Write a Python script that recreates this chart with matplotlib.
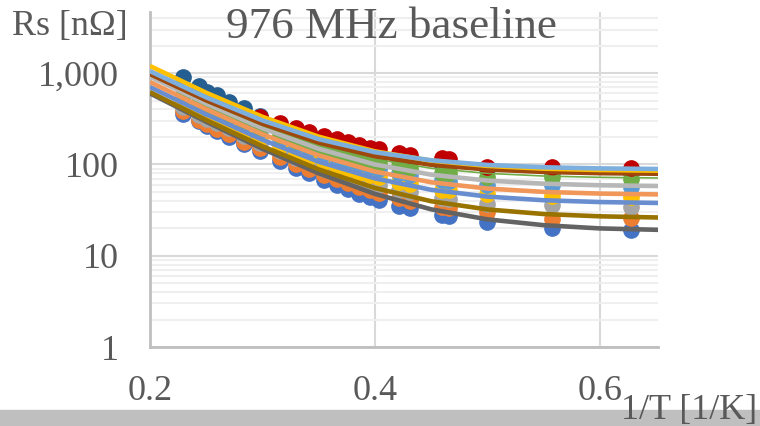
import numpy as np
import matplotlib.pyplot as plt
from matplotlib.patches import Rectangle
from matplotlib.ticker import FixedLocator, FixedFormatter, LogLocator, NullFormatter

plt.rcParams['font.family'] = ['Liberation Serif', 'DejaVu Serif']

# 1/T columns [1/K]
inv_t = [0.229, 0.244, 0.251, 0.260, 0.270, 0.284, 0.298, 0.316, 0.330, 0.341, 0.355, 0.366,
         0.376, 0.386, 0.396, 0.404, 0.421, 0.431, 0.460, 0.466, 0.500, 0.557, 0.628]

nan = np.nan
# measured Rs [nOhm]
rs_blue = [360, 300, 265, 235, 200, 168, 140, 110, 92, 80, 68, 60, 54, 48, 44, 41, 35, 33, 28, 27.5, 23.5, 20, 19]
rs_orange = [380, 305, 278, 245, 215, 178, 150, 120, 100, 89, 77, 69, 63, 57, 52, 49, 43, 40, 34, 33, 30, 25, 26]
rs_gray = [430, 350, 318, 282, 248, 205, 172, 140, 118, 105, 90, 82, 75, 69, 64, 60, 53, 50, 43, 42, 37, 35.5, 34]
rs_gold = [480, 390, 352, 312, 275, 230, 193, 158, 135, 120, 106, 96, 88, 81, 76, 72, 64, 61, 53, 52, 47, 45.5, 44]
rs_lightblue = [565, 462, 420, 374, 330, 277, 235, 192, 165, 148, 130, 118, 108, 100, 94, 89, 80, 76, 67, 66, 60, 59, 57]
rs_green = [595, 488, 446, 398, 352, 298, 253, 208, 181, 164, 145, 133, 124, 115, 108, 103, 95, 91, 81, 80, 72, 73, 69]
rs_navy = [900, 720, 625, 575, 485, 415, 335, 270, 232, 208, 184, 167, 154, 143, 134, 128, 116, 111, 99, 97, 88, 82, 80]
rs_red = [nan, nan, nan, nan, nan, nan, 330, 285, 250, 226, 205, 189, 176, 163, 152, 146, 135, 128, 118, 115, 94, 93, 91]

# trend lines
fit_x = [0.200, 0.250, 0.300, 0.350, 0.400, 0.450, 0.500, 0.550, 0.600, 0.652]
fit_lightblue = [1050, 542, 303, 189, 136, 111, 98.7, 93, 90.4, 89.1]
fit_gold = [1196, 609, 332, 201, 139, 110, 96.3, 89.8, 86.8, 85.3]
fit_brown = [978, 503, 279, 173, 123, 99, 88, 82.7, 80.2, 79]
fit_green = [950, 486, 266, 163, 114, 90.7, 79.8, 74.6, 72.2, 71]
fit_gray = [917, 463, 249, 148, 99.8, 77.2, 66.5, 61.5, 59.1, 58]
fit_orange = [800, 402, 214, 125.5, 83.5, 63.7, 54.4, 50, 47.9, 46.9]
fit_blue = [705, 353, 186, 107, 70.3, 52.7, 44.4, 40.5, 38.7, 37.8]
fit_darkgold = [620, 306, 158, 88.2, 55.1, 39.5, 32.1, 28.6, 27, 26.2]
fit_darkgray = [600, 293, 148, 79.8, 47.5, 32.2, 25, 21.6, 19.9, 19.2]

fig = plt.figure(figsize=(7.6, 4.26), dpi=100)
ax = fig.add_axes([150 / 760, 79 / 426, 508 / 760, 335 / 426])

markers = [
    (rs_navy, '#255E91'),
    (rs_blue, '#4472C4'),
    (rs_orange, '#ED7D31'),
    (rs_gray, '#A5A5A5'),
    (rs_gold, '#FFC000'),
    (rs_lightblue, '#5B9BD5'),
    (rs_green, '#70AD47'),
    (rs_red, '#C00000'),
]
for vals, c in markers:
    ax.plot(inv_t, vals, 'o', ms=11, color=c, mec=c, zorder=3)

fits = [
    (fit_darkgray, '#636363', 3.3),
    (fit_darkgold, '#997300', 3.3),
    (fit_blue, '#698ED0', 3.3),
    (fit_orange, '#F1975A', 3.3),
    (fit_gray, '#B7B7B7', 3.3),
    (fit_green, '#70AD47', 1.2),
    (fit_brown, '#9E480E', 3.3),
    (fit_gold, '#FFC000', 3.3),
    (fit_lightblue, '#7CAFDD', 3.3),
]
for vals, c, w in fits:
    ax.plot(fit_x, vals, '-', color=c, lw=w, zorder=4, solid_capstyle='butt')

ax.set_yscale('log')
ax.set_xlim(0.2, 0.6516)
ax.set_ylim(1, 4670)

ax.yaxis.set_major_locator(FixedLocator([1, 10, 100, 1000]))
ax.yaxis.set_major_formatter(FixedFormatter(['1', '10', '100', '1,000']))
ax.yaxis.set_minor_locator(LogLocator(base=10, subs=np.arange(2, 10)))
ax.yaxis.set_minor_formatter(NullFormatter())
ax.xaxis.set_major_locator(FixedLocator([0.2, 0.4, 0.6]))
ax.xaxis.set_major_formatter(FixedFormatter(['0.2', '0.4', '0.6']))

ax.grid(True, which='major', axis='both', color='#D9D9D9', lw=1.5, zorder=0)
ax.grid(True, which='minor', axis='y', color='#EFEFEF', lw=1.5, zorder=0)
ax.set_axisbelow(True)

ax.tick_params(axis='both', which='both', length=0, colors='#595959', labelsize=26)
ax.tick_params(axis='y', pad=22.5)
ax.tick_params(axis='x', pad=20)

for s in ['top', 'right']:
    ax.spines[s].set_visible(False)
for s in ['left', 'bottom']:
    ax.spines[s].set_color('#BFBFBF')
    ax.spines[s].set_linewidth(2)

fig.patches.append(Rectangle((0, 0), 1, 16 / 426, transform=fig.transFigure,
                             color='#BFBFBF', zorder=0))

fig.text(12 / 760, 1 - 27 / 426, 'Rs [nΩ]', ha='left', va='center', fontsize=26, color='#595959')
fig.text(391 / 760, 1 - 27 / 426, '976 MHz baseline', ha='center', va='center', fontsize=32.5,
         color='#595959')
fig.text(621 / 760, 1 - 411 / 426, '1/T [1/K]', ha='left', va='center', fontsize=26,
         color='#595959', zorder=5)

fig.savefig('out.png', dpi=100)
